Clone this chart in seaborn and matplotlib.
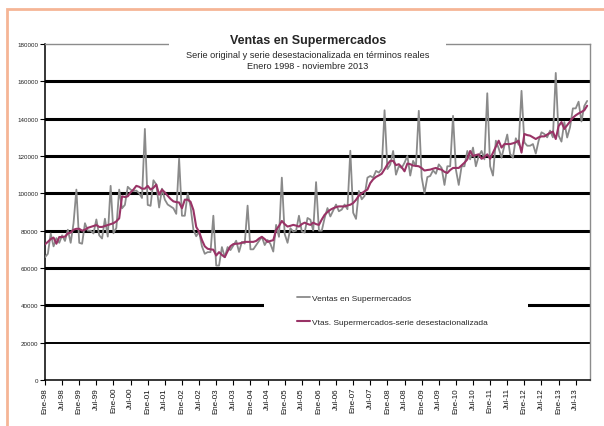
import numpy as np
import pandas as pd
import matplotlib
matplotlib.use("Agg")
import matplotlib.pyplot as plt
import seaborn as sns
from matplotlib.patches import Rectangle

# Ventas en supermercados, enero 1998 - noviembre 2013 (una fila por año)
ventas = [
    65800, 67600, 78500, 71600, 76000, 73500, 77500, 74500, 80500, 73500, 84000, 102000,
    73500, 73000, 84000, 80000, 80000, 78500, 86000, 77500, 75800, 86400, 76800, 104000,
    78600, 81500, 102000, 92000, 93800, 103500, 102000, 101200, 101500, 100000, 97500, 134500,
    93800, 93300, 107000, 104700, 92400, 102500, 96600, 94000, 93000, 92000, 89000, 118600,
    88000, 88000, 100000, 93000, 80500, 77000, 79500, 71600, 67600, 68500, 68500, 88000,
    61300, 61300, 71200, 65800, 71200, 69600, 72000, 74600, 68600, 74000, 73100, 93400,
    70000, 70000, 72300, 74500, 76700, 72300, 75000, 72900, 68800, 83100, 76700, 108400,
    78200, 73500, 81300, 79500, 80000, 88000, 79500, 79000, 86800, 85900, 80000, 106000,
    80000, 80000, 86800, 92100, 87600, 90800, 94000, 90400, 91300, 94000, 91500, 122800,
    89600, 86300, 101300, 96800, 98600, 108400, 109300, 108400, 112000, 111100, 113000, 144500,
    113000, 115400, 122700, 110000, 114500, 113600, 116400, 120000, 109500, 117400, 114500, 144200,
    108700, 100000, 108700, 109300, 112300, 110500, 115500, 113600, 104500, 114500, 114500, 141500,
    112700, 104500, 114500, 114500, 122700, 118200, 124500, 114500, 120000, 122700, 118200, 153600,
    114500, 109500, 128200, 124100, 119100, 125500, 131500, 121100, 119100, 129500, 126000, 154900,
    127300, 125500, 125500, 126400, 121300, 128200, 132700, 131800, 130000, 133600, 130000, 164500,
    131000, 127700, 138200, 129900, 135400, 145500, 145500, 149100, 138500, 146800, 149500,
]

# Serie desestacionalizada
desest = [
    72700, 74000, 75500, 76300, 73000, 76600, 76600, 76800, 78500, 79000, 80500, 81000,
    81000, 80000, 80500, 81500, 82000, 82500, 83000, 82000, 82000, 82500, 83000, 83500,
    84000, 85000, 86600, 98400, 98000, 98400, 100500, 102000, 104000, 103500, 102500, 102500,
    104000, 102000, 103000, 104700, 99300, 102000, 100500, 98700, 97000, 95700, 95300, 95100,
    92000, 96600, 96600, 95500, 91100, 82000, 79400, 75000, 71600, 70300, 70000, 69800,
    66700, 68500, 67000, 65800, 69000, 71700, 72800, 73000, 73100, 73500, 74000, 74000,
    74000, 74000, 74500, 75800, 76700, 75500, 74000, 74500, 74900, 80400, 82500, 85200,
    83500, 82200, 82600, 83100, 82700, 82200, 83500, 84300, 83600, 83100, 84300, 83500,
    83100, 86000, 88500, 90000, 91200, 92000, 92600, 93000, 93000, 93000, 93500, 93900,
    94800, 96500, 98800, 100000, 101100, 102000, 105500, 107500, 108800, 109600, 110500, 112900,
    115500, 117400, 117400, 115100, 115600, 114000, 111800, 116000, 115600, 114900, 114700, 114500,
    113500, 112200, 112500, 112700, 113200, 113600, 113000, 112700, 111500, 110900, 112500, 113600,
    113600, 113600, 115000, 116400, 118200, 122700, 120000, 120500, 120900, 118500, 119500, 120900,
    118500, 121800, 125000, 128200, 124500, 126400, 126400, 126400, 126800, 127300, 128200, 121800,
    131800, 131200, 130900, 130000, 129100, 130000, 130500, 130500, 131500, 132400, 133100, 129100,
    136000, 138200, 134500, 136500, 138500, 140500, 141800, 142800, 143600, 144500, 146900,
]

etiquetas_x = [
    "Ene-98", "Jul-98", "Ene-99", "Jul-99", "Ene-00", "Jul-00", "Ene-01", "Jul-01",
    "Ene-02", "Jul-02", "Ene-03", "Jul-03", "Ene-04", "Jul-04", "Ene-05", "Jul-05",
    "Ene-06", "Jul-06", "Ene-07", "Jul-07", "Ene-08", "Jul-08", "Ene-09", "Jul-09",
    "Ene-10", "Jul-10", "Ene-11", "Jul-11", "Ene-12", "Jul-12", "Ene-13", "Jul-13",
]

nombre_orig = "Ventas en Supermercados"
nombre_des = "Vtas. Supermercados-serie desestacionalizada"

df = pd.DataFrame({"mes": np.arange(len(ventas)), "orig": ventas, "des": desest})

sns.set_style("white")
plt.rcParams["font.family"] = ["Liberation Sans", "DejaVu Sans"]

W, H = 604, 427
fig = plt.figure(figsize=(W / 100, H / 100), dpi=100)
ax = fig.add_axes([45 / W, (H - 381) / H, 545 / W, 336 / H])

# lineas de cuadricula
for v in range(40000, 160001, 20000):
    ax.axhline(v, color="black", lw=2.2, zorder=1)
ax.axhline(20000, color="black", lw=1.4, zorder=1)

sns.lineplot(data=df, x="mes", y="orig", ax=ax, color="#8a8a8a", lw=1.3,
             label=nombre_orig, legend=False, zorder=3)
sns.lineplot(data=df, x="mes", y="des", ax=ax, color="#993366", lw=1.5,
             label=nombre_des, legend=False, zorder=4)

ax.set_xlim(0, 191)
ax.set_ylim(0, 180000)
ax.set_xlabel("")
ax.set_ylabel("")
ax.set_yticks(range(0, 180001, 20000))
ax.set_yticklabels([str(v) for v in range(0, 180001, 20000)], fontsize=4.5, color="#222222")
ax.set_xticks(range(0, 6 * len(etiquetas_x), 6))
ax.set_xticklabels(etiquetas_x, rotation=90, fontsize=5.8, color="#111111")
ax.tick_params(axis="both", direction="out", length=3.5, width=0.8, color="black", pad=1.5)
ax.tick_params(axis="y", left=True)
ax.tick_params(axis="x", bottom=True)

for lado in ["left", "bottom"]:
    ax.spines[lado].set_color("black")
    ax.spines[lado].set_linewidth(1.1)
for lado in ["top", "right"]:
    ax.spines[lado].set_color("#8c8c8c")
    ax.spines[lado].set_linewidth(1.0)

# marco naranja
fig.patches.append(Rectangle((7 / W, -0.2), 1.3, (H - 10) / H + 0.2, transform=fig.transFigure,
                             facecolor="none", edgecolor="#f5b596", lw=2, zorder=0))

# caja del titulo
fig.patches.append(Rectangle((169 / W, (H - 74) / H), 277 / W, 44 / H, transform=fig.transFigure,
                             facecolor="white", edgecolor="none", zorder=5))
fig.text(308 / W, (H - 41) / H, "Ventas en Supermercados", ha="center", va="center",
         fontsize=9, fontweight="bold", zorder=6)
fig.text(308 / W, (H - 56) / H, "Serie original y serie desestacionalizada en términos reales",
         ha="center", va="center", fontsize=6.6, zorder=6)
fig.text(308 / W, (H - 67) / H, "Enero 1998 - noviembre 2013", ha="center", va="center",
         fontsize=6.6, zorder=6)

# caja de la leyenda
fig.patches.append(Rectangle((264 / W, (H - 337) / H), 264 / W, 50 / H, transform=fig.transFigure,
                             facecolor="white", edgecolor="none", zorder=5))
handles, labels = ax.get_legend_handles_labels()
leg = fig.legend(handles, labels, loc="upper left", bbox_to_anchor=(297 / W, (H - 295) / H),
                 frameon=False, fontsize=6, handlelength=1.6, handletextpad=0.25,
                 labelspacing=2.0, borderpad=0, borderaxespad=0)
leg.set_zorder(6)

fig.savefig("out.png", dpi=100)
